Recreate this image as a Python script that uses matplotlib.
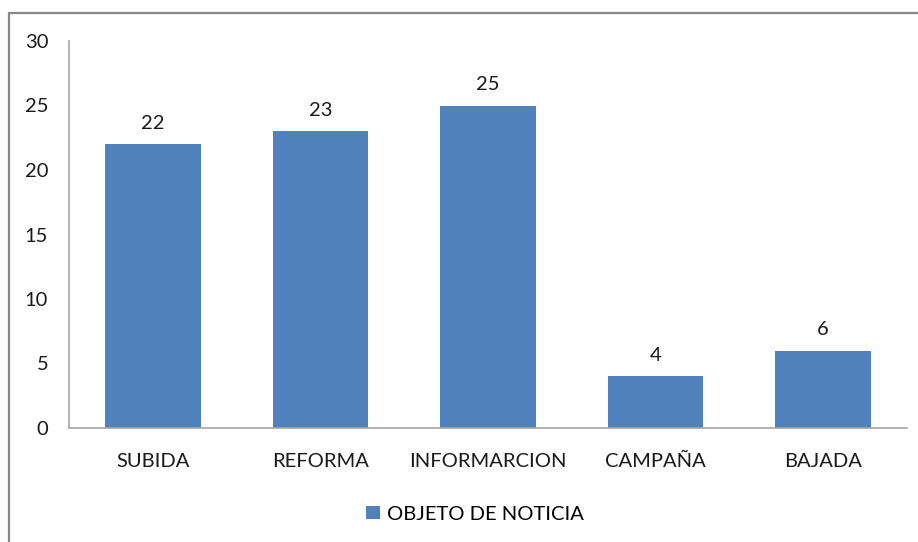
import matplotlib.pyplot as plt
from matplotlib.patches import Rectangle

# Data
categorias = ['SUBIDA', 'REFORMA', 'INFORMARCION', 'CAMPAÑA', 'BAJADA']
valores = [22, 23, 25, 4, 6]
serie = 'OBJETO DE NOTICIA'
yticks = [0, 5, 10, 15, 20, 25, 30]

plt.rcParams['font.family'] = ['Lato', 'DejaVu Sans']

fig = plt.figure(figsize=(9.18, 5.42), dpi=100)
ax = fig.add_axes([69/918, 1 - 428/542, (907 - 69)/918, (428 - 41)/542])

# outer border of the chart area
fig.patches.append(Rectangle((9/918, -0.05), 1.2, 1 - 13/542 + 0.05,
                             transform=fig.transFigure, fill=False,
                             edgecolor='#888888', linewidth=1.6))

x = range(len(categorias))
barras = ax.bar(x, valores, width=0.57, color='#4F81BD', label=serie)
for b, v in zip(barras, valores):
    ax.text(b.get_x() + b.get_width()/2, v + 0.95, str(v),
            ha='center', va='bottom', fontsize=14.5, color='#1a1a1a')

ax.set_xlim(-0.5, len(categorias) - 0.5)
ax.set_ylim(0, 30)
ax.set_yticks(yticks)
ax.set_xticks(list(x))
ax.set_xticklabels(categorias)
ax.tick_params(axis='both', length=0, labelsize=14.5, colors='#1a1a1a')
ax.tick_params(axis='y', pad=15)
ax.tick_params(axis='x', pad=18)

for s in ['top', 'right']:
    ax.spines[s].set_visible(False)
for s in ['left', 'bottom']:
    ax.spines[s].set_color('#A6A6A6')
    ax.spines[s].set_linewidth(1.2)

leg = fig.legend(handles=[barras], labels=[serie], loc='center',
                 bbox_to_anchor=(475/918, 1 - 514/542), frameon=False,
                 fontsize=14.5, handlelength=0.65, handleheight=0.65,
                 handletextpad=0.35)

fig.savefig('out.png', dpi=100)
